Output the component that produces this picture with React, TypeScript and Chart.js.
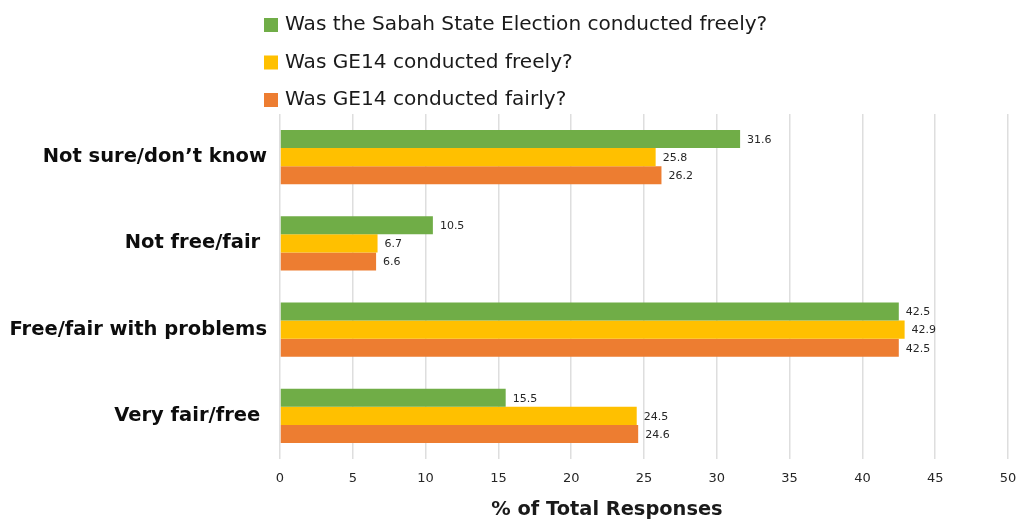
import React, { useEffect, useRef } from "react";
import { Chart, registerables } from "chart.js";

Chart.register(...registerables);

const categories = ["Not sure/don\u2019t know", "Not free/fair ", "Free/fair with problems", "Very fair/free "];
const seriesNames = [
  "Was the Sabah State Election conducted freely?",
  "Was GE14 conducted freely?",
  "Was GE14 conducted fairly?",
];
const sabahFreely = [31.6, 10.5, 42.5, 15.5];
const ge14Freely = [25.8, 6.7, 42.9, 24.5];
const ge14Fairly = [26.2, 6.6, 42.5, 24.6];
const seriesColors = ["#70AD47", "#FFC000", "#ED7D31"];
const xTitle = "% of Total Responses";

const FONT = "'DejaVu Sans', Verdana, sans-serif";

const valueLabels = {
  id: "valueLabels",
  afterDatasetsDraw(chart: any) {
    const ctx = chart.ctx;
    ctx.save();
    ctx.font = `11px ${FONT}`;
    ctx.fillStyle = "#262626";
    ctx.textAlign = "left";
    ctx.textBaseline = "middle";
    chart.data.datasets.forEach((ds: any, i: number) => {
      const meta = chart.getDatasetMeta(i);
      meta.data.forEach((bar: any, j: number) => {
        ctx.fillText(String(ds.data[j]), bar.x + 7, bar.y + 1);
      });
    });
    ctx.restore();
  },
};

const stackedLegend = {
  id: "stackedLegend",
  afterDraw(chart: any) {
    const ctx = chart.ctx;
    ctx.save();
    ctx.font = `20.1px ${FONT}`;
    ctx.textBaseline = "middle";
    ctx.textAlign = "left";
    chart.data.datasets.forEach((ds: any, i: number) => {
      const cy = 25 + i * 37.5;
      ctx.fillStyle = ds.backgroundColor;
      ctx.fillRect(264, cy - 7, 14, 14);
      ctx.fillStyle = "#1a1a1a";
      ctx.fillText(ds.label, 285, cy);
    });
    ctx.restore();
  },
};

const axisTitle = {
  id: "axisTitle",
  afterDraw(chart: any) {
    const ctx = chart.ctx;
    ctx.save();
    ctx.font = `bold 19.4px ${FONT}`;
    ctx.fillStyle = "#1a1a1a";
    ctx.textAlign = "center";
    ctx.textBaseline = "middle";
    ctx.fillText(xTitle, 607, 510);
    ctx.restore();
  },
};

export default function App() {
  const ref = useRef<HTMLCanvasElement | null>(null);

  useEffect(() => {
    if (!ref.current) return;
    const values = [sabahFreely, ge14Freely, ge14Fairly];
    const chart = new Chart(ref.current, {
      type: "bar",
      data: {
        labels: categories,
        datasets: values.map((d, i) => ({
          label: seriesNames[i],
          data: d,
          backgroundColor: seriesColors[i],
          borderWidth: 0,
          barPercentage: 1,
          categoryPercentage: 0.63,
        })),
      },
      options: {
        indexAxis: "y",
        animation: false,
        responsive: false,
        layout: { padding: { top: 114, right: 9, bottom: 0, left: 0 } },
        plugins: {
          legend: { display: false },
          tooltip: { enabled: false },
        },
        scales: {
          x: {
            min: 0,
            max: 50,
            ticks: {
              stepSize: 5,
              color: "#262626",
              font: { family: FONT, size: 13 },
              padding: 12,
              maxRotation: 0,
            },
            grid: { color: "#dedede", lineWidth: 1.5, drawTicks: false },
            border: { display: false },
            afterFit: (s: any) => {
              s.height = 61;
              s.paddingLeft = 0;
              s.paddingRight = 0;
            },
          },
          y: {
            ticks: {
              color: "#0d0d0d",
              font: { family: FONT, size: 19.5, weight: "bold" },
              padding: 13,
            },
            grid: { display: false, drawTicks: false },
            border: { display: false },
            afterFit: (s: any) => {
              s.width = 280;
              s.paddingTop = 0;
              s.paddingBottom = 0;
            },
          },
        },
      },
      plugins: [valueLabels, stackedLegend, axisTitle],
    });
    return () => chart.destroy();
  }, []);

  return (
    <div style={{ position: "absolute", left: 0, top: 0, width: 1017, height: 520, background: "#fff" }}>
      <canvas ref={ref} width={1017} height={520} />
    </div>
  );
}
